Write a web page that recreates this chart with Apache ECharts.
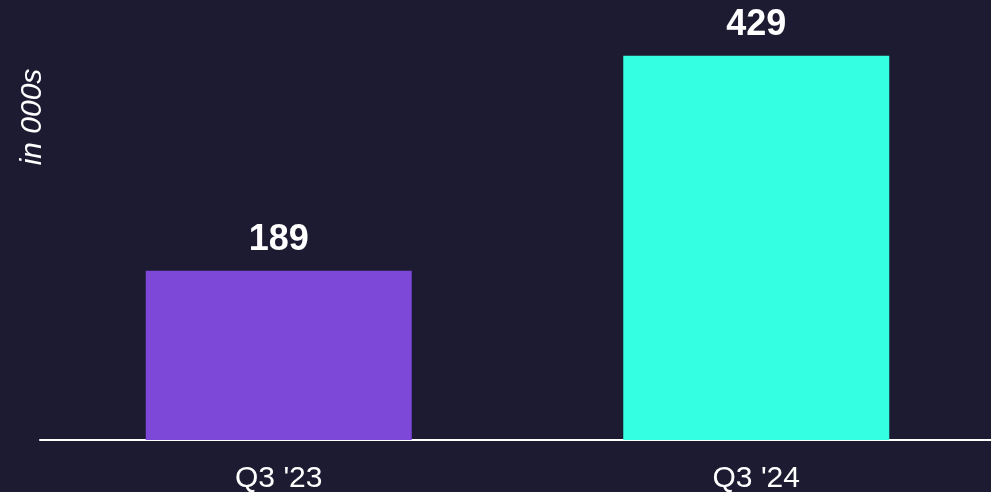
<!DOCTYPE html>
<html lang="en">
<head>
    <meta charset="UTF-8">
    <title>Chart</title>
    <script src="https://cdn.jsdelivr.net/npm/echarts@6/dist/echarts.min.js"></script>
    <style>
        html, body { margin: 0; padding: 0; background: #1d1b31; }
    </style>
</head>
<body>
    <div id="main" style="width: 991px;height:492px;"></div>
<script>
    var categories = ["Q3 '23", "Q3 '24"];
    var values = [189, 429];
    var barColors = ['#7d47d8', '#35ffe2'];

    var myChart = echarts.init(document.getElementById('main'));

    myChart.setOption({
        backgroundColor: '#1d1b31',
        textStyle: { fontFamily: 'Liberation Sans, Arial, sans-serif' },
        grid: { left: 40, right: -4, top: 10, bottom: 52, outerBoundsMode: 'none', containLabel: false },
        xAxis: {
            type: 'category',
            data: categories,
            axisLine: { lineStyle: { color: '#ffffff', width: 2 } },
            axisTick: { show: false },
            axisLabel: { color: '#ffffff', fontSize: 30, margin: 24 }
        },
        yAxis: {
            type: 'value',
            min: 0,
            max: 480,
            show: false,
            splitLine: { show: false }
        },
        graphic: [{
            type: 'text',
            x: 33,
            y: 117,
            rotation: Math.PI / 2,
            style: {
                text: 'in 000s',
                fill: '#ffffff',
                font: 'italic 30px Liberation Sans, Arial, sans-serif',
                align: 'center',
                verticalAlign: 'middle'
            }
        }],
        series: [{
            type: 'bar',
            barWidth: 266,
            data: values.map(function (v, i) {
                return { value: v, itemStyle: { color: barColors[i] } };
            }),
            label: {
                show: true,
                position: 'top',
                distance: 13,
                color: '#ffffff',
                fontSize: 36,
                fontWeight: 'bold'
            }
        }]
    });
</script>
</body>
</html>
